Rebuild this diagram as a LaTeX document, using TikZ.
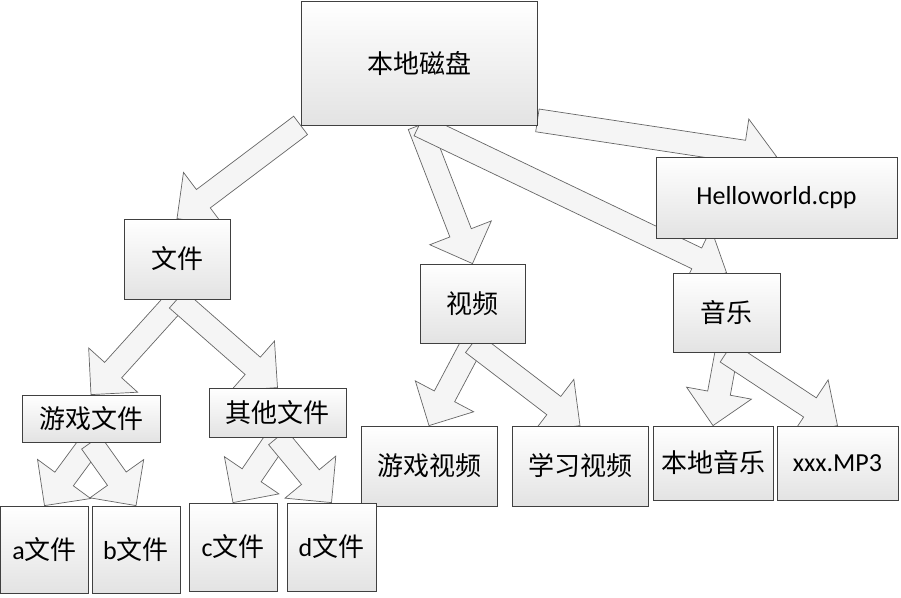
\documentclass[tikz,border=0pt]{standalone}
\usepackage{fontspec}
\setmainfont{Carlito}
\newfontfamily\cjk{Noto Sans CJK SC}
\usepackage{tikz}
\usetikzlibrary{calc}
\usetikzlibrary{backgrounds}

% hollow block arrow from #1 to #2
\newcommand\blockarrow[2]{%
  \draw[blockarrow] let \p1=(#1), \p2=(#2),
    \n1={atan2(\y2-\y1,\x2-\x1)}, \n2={veclen(\x2-\x1,\y2-\y1)-33pt} in
    ($(\p1)+(\n1+90:11.5pt)$)
    -- ($(\p1)+(\n1:\n2)+(\n1+90:11.5pt)$)
    -- ($(\p1)+(\n1:\n2)+(\n1+90:33pt)$)
    -- (\p2)
    -- ($(\p1)+(\n1:\n2)+(\n1-90:33pt)$)
    -- ($(\p1)+(\n1:\n2)+(\n1-90:11.5pt)$)
    -- ($(\p1)+(\n1-90:11.5pt)$) -- cycle;}

\begin{document}
\begin{tikzpicture}[x=1pt, y=-1pt,
    box/.style={draw=black!75, line width=0.8pt, top color=white, bottom color=black!11,
                inner sep=0pt, text=black, font=\fontsize{26}{31}\selectfont},
    blockarrow/.style={draw=black!60, line width=0.7pt, fill=black!4, line join=miter}]
                    \useasboundingbox (0,0) rectangle (901,597);

                    % Root of the tree
                    \node[box, minimum width=236pt, minimum height=124pt] (disk) at (419,63) {\cjk 本地磁盘};

                    % Second level
                    \node[box, minimum width=241pt, minimum height=81pt] (hello) at (776.5,197.5) {Helloworld.cpp};
                    \node[box, minimum width=106pt, minimum height=80pt] (wenjian) at (177,259) {\cjk 文件};
                    \node[box, minimum width=105pt, minimum height=79pt] (shipin) at (472.5,303.5) {\cjk 视频};
                    \node[box, minimum width=107pt, minimum height=79pt] (yinyue) at (726.5,312.5) {\cjk 音乐};

                    % Third level
                    \node[box, minimum width=138pt, minimum height=47pt] (youxiwj) at (91,418.5) {\cjk 游戏文件};
                    \node[box, minimum width=137pt, minimum height=49pt] (qitawj) at (277.5,412.5) {\cjk 其他文件};
                    \node[box, minimum width=136pt, minimum height=80pt] (youxisp) at (429,466) {\cjk 游戏视频};
                    \node[box, minimum width=136pt, minimum height=80pt] (xuexisp) at (580,466) {\cjk 学习视频};
                    \node[box, minimum width=120pt, minimum height=74pt] (bendiyy) at (713,463) {\cjk 本地音乐};
                    \node[box, minimum width=121pt, minimum height=74pt] (mp3) at (837.5,463) {xxx.MP3};

                    % Leaves
                    \node[box, minimum width=88pt, minimum height=87pt] (afile) at (44.5,549.5) {a\cjk 文件};
                    \node[box, minimum width=88pt, minimum height=87pt] (bfile) at (136,549.5) {b\cjk 文件};
                    \node[box, minimum width=88pt, minimum height=88pt] (cfile) at (233,547) {c\cjk 文件};
                    \node[box, minimum width=89pt, minimum height=88pt] (dfile) at (331.5,547) {d\cjk 文件};

                    % Block arrows behind the boxes
                    \begin{scope}[on background layer]
                    \blockarrow{disk.south west}{wenjian.north}
                    \blockarrow{disk.south}{shipin.north}
                    \blockarrow{disk.south}{yinyue.north}
                    \blockarrow{$(disk.south east)+(0,-5)$}{hello.north}
                    \blockarrow{wenjian.south}{youxiwj.north}
                    \blockarrow{wenjian.south}{qitawj.north}
                    \blockarrow{youxiwj.south}{afile.north}
                    \blockarrow{youxiwj.south}{bfile.north}
                    \blockarrow{qitawj.south}{cfile.north}
                    \blockarrow{qitawj.south}{dfile.north}
                    \blockarrow{shipin.south}{youxisp.north}
                    \blockarrow{shipin.south}{xuexisp.north}
                    \blockarrow{yinyue.south}{bendiyy.north}
                    \blockarrow{yinyue.south}{mp3.north}
                    \end{scope}

                \end{tikzpicture}
\end{document}
